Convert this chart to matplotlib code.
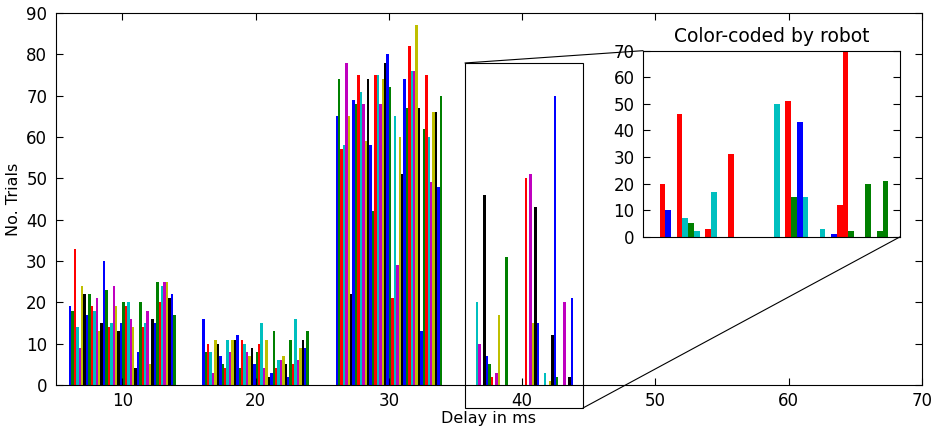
import matplotlib
matplotlib.use("Agg")
import matplotlib.pyplot as plt
from matplotlib.patches import Rectangle, ConnectionPatch

plt.rcParams['font.family'] = ['DejaVu Sans']

# ---- data ----
bin_lefts = [5, 15, 25, 35]
bin_width = 10
rwidth = 0.8
series_colors = ['b', 'g', 'r', 'c', 'm', 'y', 'k']

g1 = [19, 18, 33, 14, 9, 24, 22, 17, 22, 19, 18, 21, 13, 15, 30, 23, 14, 15, 24, 19, 13, 15,
      20, 19, 20, 16, 14, 4, 8, 20, 14, 15, 18, 5, 16, 15, 25, 20, 24, 25, 25, 21, 22, 17]
g2 = [16, 8, 10, 8, 3, 11, 10, 7, 5, 4, 11, 8, 11, 11, 12, 4, 11, 10, 8, 7, 9, 5,
      8, 10, 15, 4, 11, 2, 3, 13, 4, 6, 6, 7, 5, 2, 11, 5, 16, 6, 9, 11, 9, 13]
g3 = [65, 74, 57, 58, 78, 65, 22, 69, 68, 75, 71, 68, 59, 74, 58, 42, 75, 75, 68, 74, 78, 80,
      72, 21, 65, 29, 60, 51, 74, 67, 82, 76, 76, 87, 67, 13, 62, 75, 60, 49, 66, 66, 48, 70]
g4 = [0, 0, 0, 20, 10, 0, 46, 7, 5, 2, 0, 3, 17, 0, 0, 31, 0, 0, 0, 0, 0, 0,
      0, 50, 0, 51, 15, 43, 15, 0, 0, 3, 0, 1, 12, 70, 2, 0, 0, 20, 0, 2, 21, 0]
groups = [g1, g2, g3, g4]

robot_colors = ['b', 'b', 'r', 'r', 'b', 'c', 'r', 'c', 'g', 'c', 'g', 'r', 'c', 'b', 'b',
                'r', 'b', 'b', 'r', 'r', 'g', 'g', 'c', 'c', 'b', 'r', 'g', 'b', 'c', 'b',
                'b', 'c', 'b', 'b', 'r', 'r', 'g', 'g', 'b', 'g', 'b', 'g', 'g', 'g']

xticks = [10, 20, 30, 40, 50, 60, 70]
yticks = [0, 10, 20, 30, 40, 50, 60, 70, 80, 90]
inset_yticks = [0, 10, 20, 30, 40, 50, 60, 70]

n_series = len(g1)
bar_w = bin_width * rwidth / n_series

fig = plt.figure(figsize=(9.33, 4.28), dpi=100)
ax = fig.add_axes([0.0596, 0.1005, 0.9286, 0.8692])

for gi, (left, vals) in enumerate(zip(bin_lefts, groups)):
    start = left + bin_width * (1 - rwidth) / 2
    xs = [start + i * bar_w for i in range(n_series)]
    cols = [series_colors[i % 7] for i in range(n_series)]
    ax.bar(xs, vals, width=bar_w, align='edge', color=cols, linewidth=0)

ax.set_xlim(5, 70)
ax.set_ylim(0, 90)
ax.set_xticks(xticks)
ax.set_yticks(yticks)
ax.tick_params(direction='in', top=True, right=True, labelsize=12, length=5)
ax.tick_params(axis='x', pad=5)
ax.tick_params(axis='y', pad=6)
ax.set_xlabel('Delay in ms', fontsize=11.5, labelpad=1)
ax.set_ylabel('No. Trials', fontsize=11.5)

# inset
axins = fig.add_axes([0.6892, 0.4470, 0.2758, 0.4346])
left = bin_lefts[3]
start = left + bin_width * (1 - rwidth) / 2
xs = [start + i * bar_w for i in range(n_series)]
axins.bar(xs, g4, width=bar_w, align='edge', color=robot_colors, linewidth=0)
axins.set_xlim(36.02, 44.2)
axins.set_ylim(0, 70)
axins.set_xticks([])
axins.set_yticks(inset_yticks)
axins.tick_params(direction='in', right=True, labelsize=12, length=5, pad=6)
axins.set_title('Color-coded by robot', fontsize=13.5)

# zoom rectangle and connectors
rx0, rx1, ry0, ry1 = 35.71, 44.57, -5.56, 77.9
rect = Rectangle((rx0, ry0), rx1 - rx0, ry1 - ry0, fill=False, edgecolor='k',
                 linewidth=0.8, clip_on=False, zorder=5)
ax.add_patch(rect)
c1 = ConnectionPatch(xyA=(rx0, ry1), coordsA=ax.transData, xyB=(0, 1), coordsB=axins.transAxes,
                     color='k', linewidth=0.8)
c2 = ConnectionPatch(xyA=(rx1, ry0), coordsA=ax.transData, xyB=(1, 0), coordsB=axins.transAxes,
                     color='k', linewidth=0.8)
fig.add_artist(c1)
fig.add_artist(c2)

fig.savefig('out.png', dpi=100, facecolor='white')
